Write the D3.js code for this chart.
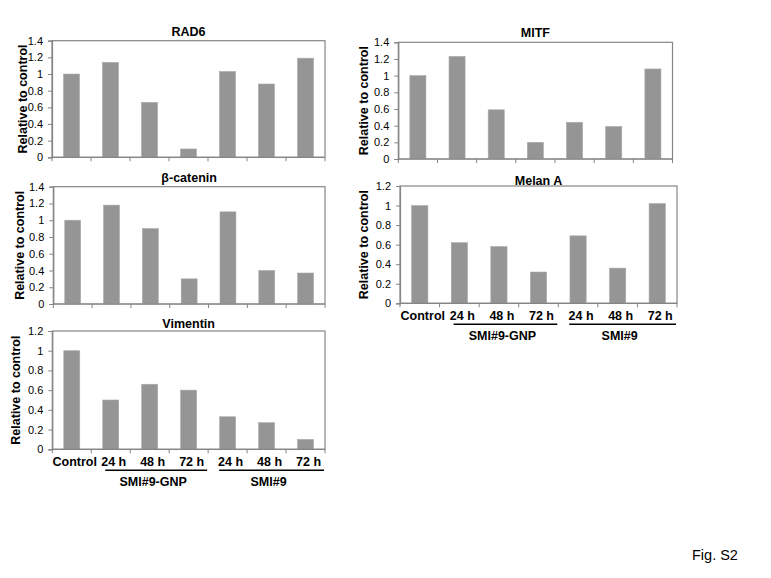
<!DOCTYPE html>
<html>
<head>
<meta charset="utf-8">
<script src="https://cdn.jsdelivr.net/npm/d3@7"></script>
<style>
  html, body { margin: 0; padding: 0; background: #fff; }
  svg { display: block; }
  text { font-family: "Liberation Sans", Arial, sans-serif; fill: #000; }
</style>
</head>
<body>
<svg id="chart" width="771" height="578"></svg>
<script>
// ---- Data ----
const categories = ["Control", "24 h", "48 h", "72 h", "24 h", "48 h", "72 h"];
const groups = ["SMI#9-GNP", "SMI#9"];
const rad6 = [1.0, 1.14, 0.66, 0.10, 1.03, 0.88, 1.19];
const mitf = [1.0, 1.23, 0.59, 0.20, 0.44, 0.39, 1.08];
const betaCatenin = [1.0, 1.18, 0.90, 0.30, 1.10, 0.40, 0.37];
const melanA = [1.0, 0.62, 0.58, 0.32, 0.69, 0.36, 1.02];
const vimentin = [1.0, 0.50, 0.66, 0.60, 0.33, 0.27, 0.10];
const ticks14 = [0, 0.2, 0.4, 0.6, 0.8, 1, 1.2, 1.4];
const ticks12 = [0, 0.2, 0.4, 0.6, 0.8, 1, 1.2];
const yTitle = "Relative to control";
const figLabel = "Fig. S2";

// ---- Layout ----
const panels = [
  { title: "RAD6", values: rad6, ticks: ticks14, l: 52, r: 325, t: 40.7, b: 157.3, ytx: 22.5, titleY: 36, labels: false },
  { title: "MITF", values: mitf, ticks: ticks14, l: 398.3, r: 672.5, t: 42.3, b: 159, ytx: 363.5, titleY: 37, labels: false },
  { title: "β-catenin", values: betaCatenin, ticks: ticks14, l: 53.3, r: 325, t: 186.7, b: 304, ytx: 19.5, titleY: 182, labels: false },
  { title: "Melan A", values: melanA, ticks: ticks12, l: 400, r: 677, t: 186, b: 303.3, ytx: 364, titleY: 184.5, labels: true },
  { title: "Vimentin", values: vimentin, ticks: ticks12, l: 52.3, r: 325, t: 331, b: 449.3, ytx: 15.5, titleY: 327.5, labels: true }
];

const svg = d3.select("#chart");
const gray = "#858585";
const barColor = "#959595";

panels.forEach(p => {
  const g = svg.append("g");
  const x = d3.scaleBand().domain(d3.range(categories.length)).range([p.l, p.r]).paddingInner(0.59).paddingOuter(0.295);
  const xb = d3.scaleBand().domain(d3.range(categories.length)).range([p.l, p.r]);
  const y = d3.scaleLinear().domain([0, d3.max(p.ticks)]).range([p.b, p.t]);

  // plot border
  g.append("rect").attr("x", p.l).attr("y", p.t).attr("width", p.r - p.l).attr("height", p.b - p.t)
    .attr("fill", "none").attr("stroke", gray).attr("stroke-width", 1.2);

  // bars
  g.selectAll("rect.bar").data(p.values).join("rect").attr("class", "bar")
    .attr("x", (d, i) => x(i)).attr("width", x.bandwidth())
    .attr("y", d => y(d)).attr("height", d => p.b - y(d))
    .attr("fill", barColor).attr("stroke", "#a8a8a8").attr("stroke-width", 0.6);

  // y axis
  const ya = g.append("g").attr("transform", `translate(${p.l},0)`)
    .call(d3.axisLeft(y).tickValues(p.ticks).tickFormat(d3.format("~g")).tickSize(4).tickPadding(5));
  ya.select(".domain").attr("stroke", gray).attr("stroke-width", 1.2);
  ya.selectAll(".tick line").attr("stroke", gray);
  ya.selectAll(".tick text").attr("font-size", 11).attr("font-family", "Liberation Sans, Arial, sans-serif").attr("fill", "#000");

  // x axis with ticks at band boundaries
  const bounds = d3.range(categories.length + 1).map(i => i < categories.length ? xb(i) : p.r);
  const xa = g.append("g");
  xa.append("line").attr("x1", p.l).attr("x2", p.r).attr("y1", p.b).attr("y2", p.b).attr("stroke", gray).attr("stroke-width", 1.2);
  xa.selectAll("line.tk").data(bounds).join("line").attr("class", "tk")
    .attr("x1", d => d).attr("x2", d => d).attr("y1", p.b).attr("y2", p.b + 4).attr("stroke", gray);

  // title
  g.append("text").attr("x", (p.l + p.r) / 2).attr("y", p.titleY).attr("text-anchor", "middle")
    .attr("font-size", 12.5).attr("font-weight", "bold").text(p.title);

  // y axis title
  g.append("text").attr("transform", `translate(${p.ytx},${(p.t + p.b) / 2}) rotate(-90)`)
    .attr("text-anchor", "middle").attr("dominant-baseline", "central")
    .attr("font-size", 12.5).attr("font-weight", "bold").text(yTitle);

  if (p.labels) {
    const bw = xb.bandwidth();
    g.selectAll("text.cat").data(categories).join("text").attr("class", "cat")
      .attr("x", (d, i) => xb(i) + bw / 2 + 3).attr("y", p.b + 17)
      .attr("text-anchor", "middle").attr("font-size", 12.5).attr("font-weight", "bold").text(d => d);
    groups.forEach((gname, gi) => {
      const s = xb(1 + gi * 3) + (gi === 0 ? 14 : 11);
      const e = xb(3 + gi * 3) + bw - 1;
      g.append("line").attr("x1", s).attr("x2", e).attr("y1", p.b + 21).attr("y2", p.b + 21)
        .attr("stroke", "#000").attr("stroke-width", 1.5);
      g.append("text").attr("x", (s + e) / 2 - 3).attr("y", p.b + 37).attr("text-anchor", "middle")
        .attr("font-size", 12.5).attr("font-weight", "bold").text(gname);
    });
  }
});

svg.append("text").attr("x", 692).attr("y", 560).attr("font-family", "Open Sans, sans-serif")
  .attr("font-size", 14.5).text(figLabel);
</script>
</body>
</html>
